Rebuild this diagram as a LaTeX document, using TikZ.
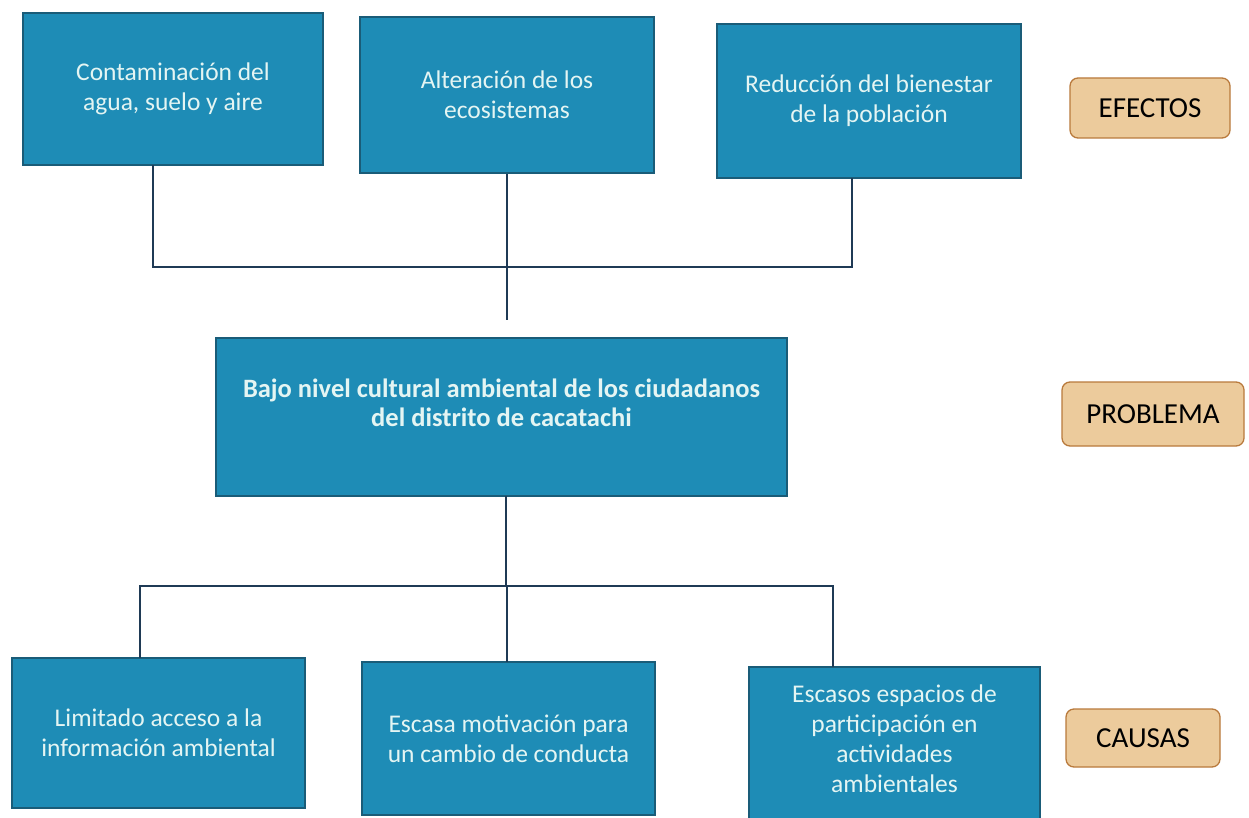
\documentclass[tikz,border=0pt]{standalone}
\usepackage{fontspec}
\setmainfont{Carlito}
\definecolor{boxfill}{HTML}{1E8CB6}
\definecolor{boxline}{HTML}{1A5C78}
\definecolor{boxtext}{HTML}{E4F5F3}
\definecolor{conn}{HTML}{1F3A55}
\definecolor{tagfill}{HTML}{ECCB9C}
\definecolor{tagline}{HTML}{B97A3C}
\tikzset{
  bx/.style={draw=boxline, line width=1.2pt, fill=boxfill, text=boxtext, align=center,
    font=\fontsize{25.5}{30}\selectfont, inner sep=0pt},
  tag/.style={draw=tagline, line width=1.3pt, fill=tagfill, rounded corners=8pt, text=black,
    font=\fontsize{29}{32}\selectfont, inner sep=0pt},
  ln/.style={draw=conn, line width=1.5pt}
}
\begin{document}
\begin{tikzpicture}[x=1pt,y=-1pt]
\useasboundingbox (0,0) rectangle (1249,818);
\clip (0,0) rectangle (1249,818);
\fill[white] (0,0) rectangle (1249,818);
% effects
\node[bx, minimum width=300, minimum height=152] (e1) at (173,89) {Contaminación del\\agua, suelo y aire};
\node[bx, minimum width=294, minimum height=156] (e2) at (507,95) {Alteración de los\\ecosistemas};
\node[bx, minimum width=304, minimum height=154] (e3) at (869,101) {Reducción del bienestar\\de la población};
% problem
\node[bx, minimum width=571, minimum height=158, font=\bfseries\fontsize{26.5}{29}\selectfont] (p) at (501.5,417) {Bajo nivel cultural ambiental de los ciudadanos\\del distrito de cacatachi\\[-9pt]\strut};
% causes
\node[bx, minimum width=293, minimum height=150] (c1) at (158.5,733) {Limitado acceso a la\\información ambiental};
\node[bx, minimum width=293, minimum height=153] (c2) at (508.5,738.5) {Escasa motivación para\\un cambio de conducta};
\node[bx, minimum width=291, minimum height=166] (c3) at (894.5,750) {Escasos espacios de\\participación en\\actividades\\ambientales\\[-16pt]\strut};
% tags
\node[tag, minimum width=160, minimum height=60] (te) at (1150,108) {EFECTOS};
\node[tag, minimum width=182, minimum height=64] (tp) at (1153,414) {PROBLEMA};
\node[tag, minimum width=154, minimum height=58] (tc) at (1143,738) {CAUSAS};
% connectors top
\coordinate (e1b) at (153,165);
\coordinate (e3b) at (852,178);
\coordinate (j1) at (507,267);
\coordinate (pt) at (507,320);
\draw[ln] (e1b) |- (j1) -| (e3b);
\draw[ln] (e2.south) -- (j1) -- (pt);
% connectors bottom
\coordinate (pb) at (506,496);
\coordinate (j2) at (506,586);
\coordinate (c1t) at (140,658);
\coordinate (c3t) at (833,667);
\coordinate (c2t) at (507,662);
\draw[ln] (pb) -- (j2);
\draw[ln] (c1t) |- (j2) -| (c3t);
\draw[ln] (j2 -| c2t) -- (c2t);
\end{tikzpicture}
\end{document}
